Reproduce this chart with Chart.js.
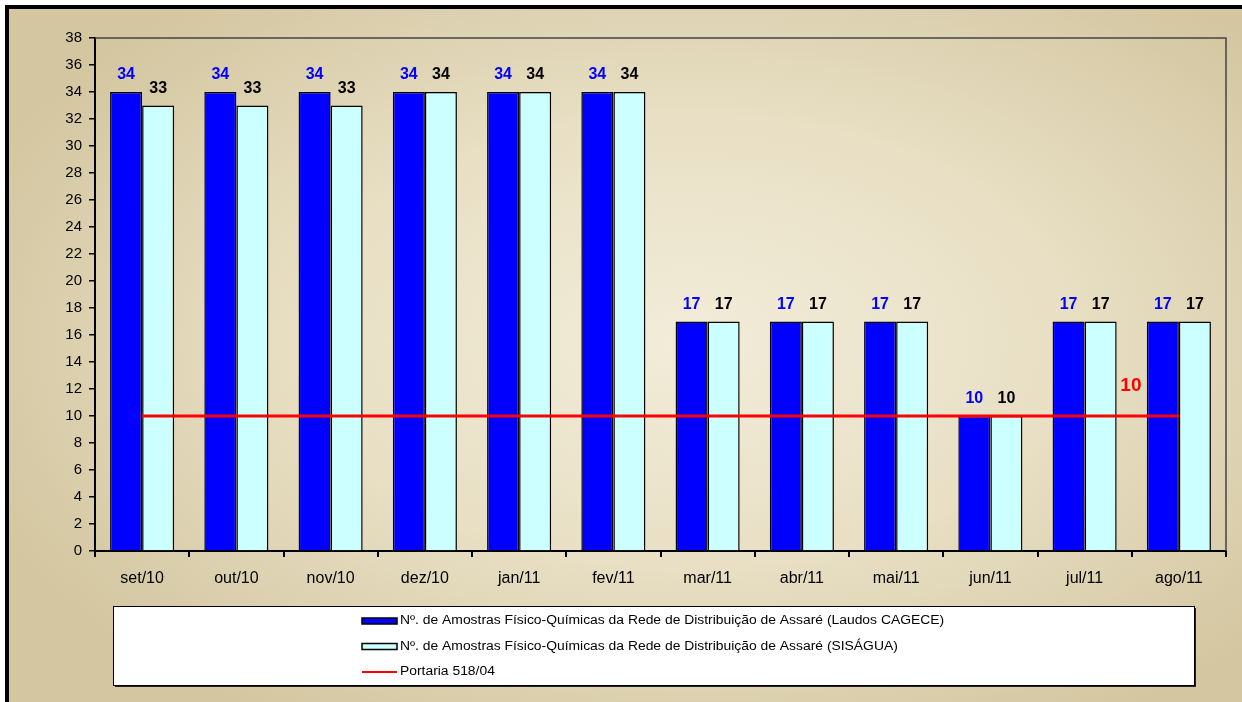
<!DOCTYPE html>
<html>
<head>
<meta charset="utf-8">
<script src="https://cdn.jsdelivr.net/npm/chart.js@4"></script>
<style>
html, body { margin: 0; padding: 0; background: #fff; overflow: hidden; }
#frame {
    position: absolute; left: 5px; top: 5px; width: 1237px; height: 697px;
    box-sizing: border-box; border-top: 4px solid #000; border-left: 4px solid #000;
    background: radial-gradient(ellipse 62% 65% at 55% 48%, #f2ecd9 0%, #e8dfc4 50%, #d3c6a0 100%);
}
#grafico { position: absolute; left: 0; top: 0; }
</style>
</head>
<body>
<div id="frame"></div>
<canvas id="grafico" width="1242" height="702"></canvas>
<script>
const meses = ['set/10', 'out/10', 'nov/10', 'dez/10', 'jan/11', 'fev/11', 'mar/11', 'abr/11', 'mai/11', 'jun/11', 'jul/11', 'ago/11'];
const laudosCagece = [34, 34, 34, 34, 34, 34, 17, 17, 17, 10, 17, 17];
const sisagua = [33, 33, 33, 34, 34, 34, 17, 17, 17, 10, 17, 17];
const portaria = [10, 10, 10, 10, 10, 10, 10, 10, 10, 10, 10, 10];
const yMin = 0, yMax = 38, yStep = 2;

const fonte = "'Liberation Sans', Arial, sans-serif";

// rotulos de valor acima das barras e o "10" da portaria
const rotulos = {
    id: 'rotulos',
    afterDatasetsDraw(chart) {
        const ctx = chart.ctx;
        ctx.save();
        ctx.textAlign = 'center';
        ctx.textBaseline = 'middle';
        ctx.font = 'bold 16px ' + fonte;
        [0, 1].forEach(d => {
            const meta = chart.getDatasetMeta(d);
            ctx.fillStyle = d === 0 ? '#0000ff' : '#000';
            meta.data.forEach((bar, i) => {
                ctx.fillText(chart.data.datasets[d].data[i], bar.x, bar.y - 17);
            });
        });
        const linha = chart.getDatasetMeta(2).data;
        const ult = linha[linha.length - 1];
        ctx.fillStyle = '#ff0000';
        ctx.font = 'bold 19px ' + fonte;
        ctx.fillText(portaria[portaria.length - 1], ult.x - 48, ult.y - 30);
        ctx.restore();
    }
};

// borda cinza do topo e da direita da area do grafico
const bordaPlot = {
    id: 'bordaPlot',
    beforeDatasetsDraw(chart) {
        const a = chart.chartArea, ctx = chart.ctx;
        ctx.save();
        ctx.strokeStyle = '#444';
        ctx.lineWidth = 1.5;
        ctx.beginPath();
        ctx.moveTo(a.left, a.top);
        ctx.lineTo(a.right, a.top);
        ctx.lineTo(a.right, a.bottom);
        ctx.stroke();
        ctx.restore();
    }
};

// legenda em caixa branca
const legenda = {
    id: 'legenda',
    afterDraw(chart) {
        const ctx = chart.ctx;
        const x = 113, y = 606, w = 1081, h = 79;
        ctx.save();
        ctx.fillStyle = '#222';
        ctx.fillRect(x + 2, y + 2, w, h);
        ctx.fillStyle = '#fff';
        ctx.fillRect(x, y, w, h);
        ctx.strokeStyle = '#000';
        ctx.lineWidth = 1;
        ctx.strokeRect(x + 0.5, y + 0.5, w, h);
        ctx.textBaseline = 'middle';
        ctx.textAlign = 'left';
        chart.data.datasets.forEach((ds, i) => {
            const ly = 621 + i * 25.5;
            if (ds.type === 'line') {
                ctx.strokeStyle = ds.borderColor;
                ctx.lineWidth = 2;
                ctx.beginPath();
                ctx.moveTo(362, ly);
                ctx.lineTo(397, ly);
                ctx.stroke();
            } else {
                ctx.fillStyle = ds.backgroundColor;
                ctx.fillRect(362, ly - 3, 35, 6);
                ctx.strokeStyle = '#000';
                ctx.lineWidth = 1.5;
                ctx.strokeRect(362, ly - 3, 35, 6);
            }
            ctx.save();
            ctx.translate(400, ly);
            ctx.scale(1.11, 1);
            ctx.font = '12.5px ' + fonte;
            ctx.fillStyle = '#000';
            ctx.fillText(ds.label, 0, 0);
            ctx.restore();
        });
        ctx.restore();
    }
};

new Chart(document.getElementById('grafico'), {
    type: 'bar',
    data: {
        labels: meses,
        datasets: [{
            label: 'Nº. de Amostras Físico-Químicas da Rede de Distribuição de Assaré (Laudos CAGECE)',
            data: laudosCagece,
            backgroundColor: '#0000ff',
            borderColor: '#000',
            borderWidth: 1.5,
            categoryPercentage: 0.68,
            barPercentage: 1,
            order: 2
        }, {
            label: 'Nº. de Amostras Físico-Químicas da Rede de Distribuição de Assaré (SISÁGUA)',
            data: sisagua,
            backgroundColor: '#ccffff',
            borderColor: '#000',
            borderWidth: 1.5,
            categoryPercentage: 0.68,
            barPercentage: 1,
            order: 2
        }, {
            type: 'line',
            label: 'Portaria 518/04',
            data: portaria,
            borderColor: '#ff0000',
            borderWidth: 3,
            pointRadius: 0,
            fill: false,
            order: 1
        }]
    },
    options: {
        responsive: false,
        animation: false,
        layout: { padding: { top: 38, right: 16, bottom: 111, left: 0 } },
        plugins: {
            legend: { display: false },
            tooltip: { enabled: false }
        },
        scales: {
            x: {
                afterFit(s) { s.height = 40; },
                grid: { drawOnChartArea: false, drawTicks: true, tickLength: 6, color: '#000', lineWidth: 2 },
                border: { color: '#000', width: 2 },
                ticks: { color: '#000', font: { family: fonte, size: 16 }, padding: 12 }
            },
            y: {
                min: yMin,
                max: yMax,
                afterFit(s) { s.width = 95; },
                grid: { drawOnChartArea: false, drawTicks: true, tickLength: 6, color: '#000', lineWidth: 1.5 },
                border: { color: '#000', width: 2 },
                ticks: { stepSize: yStep, color: '#000', font: { family: fonte, size: 15 }, padding: 7 }
            }
        }
    },
    plugins: [bordaPlot, rotulos, legenda]
});
</script>
</body>
</html>
